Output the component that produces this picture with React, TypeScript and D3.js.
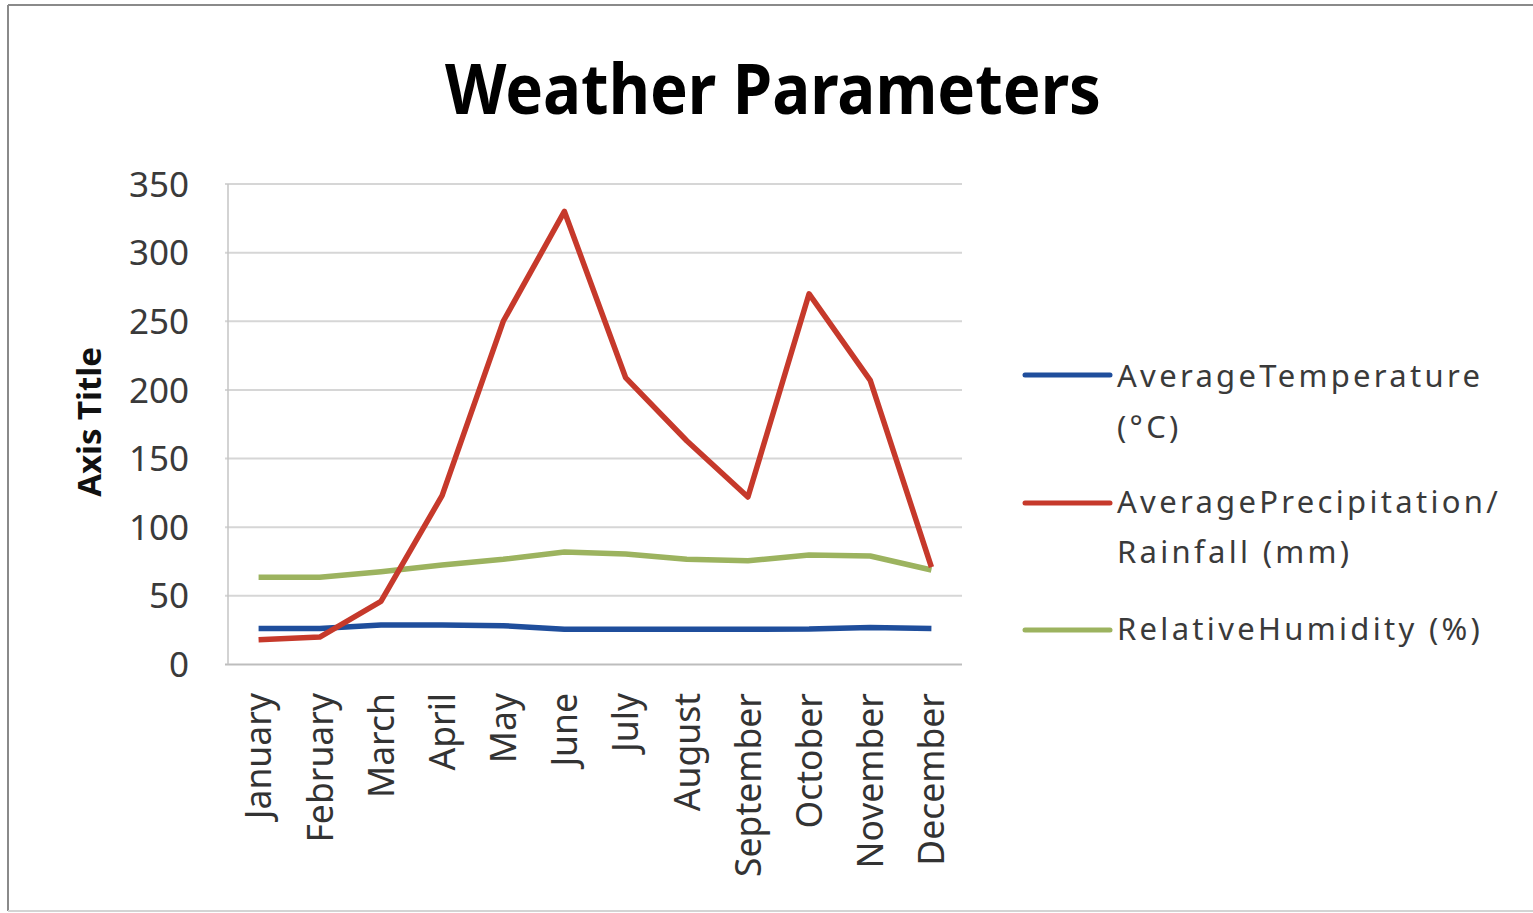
import React from "react";
import * as d3 from "d3";

const months = [
  "January", "February", "March", "April", "May", "June",
  "July", "August", "September", "October", "November", "December",
];

const avgTemperature = [26.3, 26.3, 28.8, 28.8, 28.3, 25.6, 25.6, 25.6, 25.6, 25.8, 27, 26.3];
const avgPrecipitation = [18, 20, 46, 123, 250, 330, 209, 163, 122, 270, 207, 71];
const relHumidity = [63.5, 63.5, 67.6, 72.5, 76.6, 82, 80.5, 76.6, 75.6, 79.7, 79, 68.8];

const yTicks = [0, 50, 100, 150, 200, 250, 300, 350];

const seriesNames = [
  ["AverageTemperature", "(°C)"],
  ["AveragePrecipitation/", "Rainfall (mm)"],
  ["RelativeHumidity (%)"],
];
const seriesColors = ["#1F4E9C", "#C6392B", "#9CB35F"];

const W = 1533;
const H = 913;
const plot = { left: 228, right: 962, top: 184, bottom: 664.5 };

export default function App() {
  const x = d3.scaleBand<string>().domain(months).range([plot.left, plot.right]).padding(0);
  const cx = (m: string) => (x(m) as number) + x.bandwidth() / 2;
  const y = d3.scaleLinear().domain([0, 350]).range([plot.bottom, plot.top]);

  const line = d3
    .line<number>()
    .x((_, i) => cx(months[i]))
    .y((v) => y(v));

  const series = [avgTemperature, avgPrecipitation, relHumidity];
  // draw order: humidity, temperature, precipitation on top
  const drawOrder = [2, 0, 1];

  const legendRows = [
    { lineY: 375, baselines: [387, 438] },
    { lineY: 503, baselines: [513, 563] },
    { lineY: 630, baselines: [640] },
  ];

  const font = "'Noto Sans', 'Open Sans', sans-serif";

  return (
    <svg
      width={W}
      height={H}
      style={{ position: "absolute", left: 0, top: 0, background: "#fff" }}
      fontFamily={font}
    >
      {/* outer frame */}
      <line x1={8} y1={5} x2={W} y2={5} stroke="#8a8a8a" strokeWidth={2} />
      <line x1={8} y1={5} x2={8} y2={911} stroke="#8a8a8a" strokeWidth={2} />
      <line x1={8} y1={911} x2={W} y2={911} stroke="#d4d4d4" strokeWidth={2} />

      {/* title */}
      <text
        x={773}
        y={114}
        textAnchor="middle"
        fontSize={70}
        fontWeight={700}
        fill="#000"
        textLength={656}
        lengthAdjust="spacingAndGlyphs"
      >
        Weather Parameters
      </text>

      {/* gridlines */}
      {yTicks.map((t) => (
        <line
          key={t}
          x1={plot.left - 3}
          x2={plot.right}
          y1={y(t)}
          y2={y(t)}
          stroke={t === 0 ? "#bdbdbd" : "#d6d6d6"}
          strokeWidth={2}
        />
      ))}
      <line x1={plot.left} x2={plot.left} y1={plot.top} y2={plot.bottom} stroke="#c4c4c4" strokeWidth={1.5} />

      {/* y tick labels */}
      {yTicks.map((t) => (
        <text key={t} x={189} y={y(t)} dy="0.36em" textAnchor="end" fontSize={35} fill="#3a3a3a">
          {t}
        </text>
      ))}

      {/* y axis title */}
      <text
        transform={`translate(101,422) rotate(-90)`}
        textAnchor="middle"
        fontSize={33}
        fontWeight={700}
        fill="#111"
      >
        Axis Title
      </text>

      {/* month labels */}
      {months.map((m) => (
        <text
          key={m}
          transform={`translate(${cx(m)},693) rotate(-90)`}
          dy="0.36em"
          textAnchor="end"
          fontSize={35.5}
          fill="#333"
        >
          {m}
        </text>
      ))}

      {/* series */}
      {drawOrder.map((i) => (
        <path
          key={i}
          d={line(series[i]) as string}
          fill="none"
          stroke={seriesColors[i]}
          strokeWidth={5.5}
          strokeLinejoin="round"
        />
      ))}

      {/* legend */}
      {legendRows.map((r, i) => (
        <g key={i}>
          <line x1={1025} x2={1110} y1={r.lineY} y2={r.lineY} stroke={seriesColors[i]} strokeWidth={5} strokeLinecap="round" />
          {seriesNames[i].map((s, j) => (
            <text key={j} x={1117} y={r.baselines[j]} fontSize={31} letterSpacing={3.3} fill="#3a3a3a">
              {s}
            </text>
          ))}
        </g>
      ))}
    </svg>
  );
}
